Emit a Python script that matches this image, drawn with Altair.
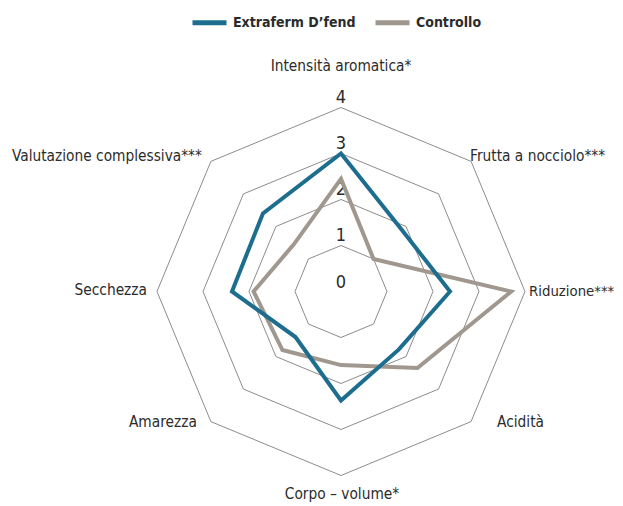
import altair as alt
import pandas as pd

# ---------------- data ----------------
categories = ["Intensità aromatica*", "Frutta a nocciolo***", "Riduzione***", "Acidità",
              "Corpo – volume*", "Amarezza", "Secchezza", "Valutazione complessiva***"]
extraferm = [3.0, 1.88, 2.37, 1.78, 2.37, 1.4, 2.37, 2.4]
controllo = [2.45, 1.0, 3.7, 2.35, 1.6, 1.8, 1.9, 1.45]
series_names = ["Extraferm D’fend", "Controllo"]
ring_levels = [1, 2, 3, 4]
tick_values = [0, 1, 2, 3, 4]
tick_labels = ["0", "1", "2", "3", "4"]

# ---------------- style ----------------
BLUE = "#1d6d8e"
GRAY = "#a0978e"
RING = "#8c8c8c"
TEXT = "#2b2b2b"
FONT = "DejaVu Sans Condensed, Liberation Sans Narrow, sans-serif"
N = len(categories)
RMAX = max(ring_levels)

series_df = pd.DataFrame(
    [{"series": s, "idx": i, "category": c, "value": v}
     for s, vals in zip(series_names, [extraferm, controllo])
     for i, (c, v) in enumerate(zip(categories, vals))]
)
ring_df = pd.DataFrame([{"level": l, "idx": i} for l in ring_levels for i in range(N)])
cat_df = pd.DataFrame({"idx": list(range(N)), "category": categories})
tick_df = pd.DataFrame({"value": tick_values, "label": tick_labels})

xs = alt.Scale(domain=[-7.239, 5.957], nice=False, zero=False)
ys = alt.Scale(domain=[-4.663, 6.163], nice=False, zero=False)


def polar(chart, rexpr):
    return chart.transform_calculate(
        px=f"({rexpr}) * sin(datum.idx * 2 * PI / {N})",
        py=f"({rexpr}) * cos(datum.idx * 2 * PI / {N})",
    )


X = alt.X("px:Q", scale=xs, axis=None)
Y = alt.Y("py:Q", scale=ys, axis=None)

rings = polar(alt.Chart(ring_df), "datum.level").mark_line(
    interpolate="linear-closed", stroke=RING, strokeWidth=1
).encode(x=X, y=Y, detail="level:N", order="idx:Q")

ticks = alt.Chart(tick_df).transform_calculate(px="0", py="datum.value").mark_text(
    font=FONT, fontSize=18, color=TEXT, align="center", baseline="alphabetic", dy=-4
).encode(x=X, y=Y, text="label:N")

# label placement (align, dx, dy, size) per axis
label_style = [
    ("center", 0, -41, 15.3),
    ("left", -1, -5, 15.3),
    ("left", 4, 0, 14.8),
    ("left", 26, 0, 15.3),
    ("center", 1, 18, 15.3),
    ("right", -14, 0, 15.3),
    ("right", -10, -2, 15.3),
    ("right", -9, -5, 15.3),
]
label_layers = []
for i, (al, dx, dy, fs) in enumerate(label_style):
    label_layers.append(
        polar(alt.Chart(cat_df).transform_filter(f"datum.idx == {i}"), str(RMAX)).mark_text(
            font=FONT, fontSize=fs, color=TEXT, align=al, baseline="middle", dx=dx, dy=dy
        ).encode(x=X, y=Y, text="category:N")
    )

color = alt.Color(
    "series:N",
    scale=alt.Scale(domain=series_names, range=[BLUE, GRAY]),
    legend=alt.Legend(
        title=None, orient="none", legendX=182, legendY=-5, direction="horizontal",
        symbolType="stroke", symbolStrokeWidth=5, symbolSize=1156,
        labelFont=FONT, labelFontWeight="bold", labelFontSize=14, labelColor=TEXT,
        columnPadding=9, labelOffset=4,
    ),
)


def series_layer(name):
    return polar(
        alt.Chart(series_df).transform_filter(f"datum.series == '{name}'"), "datum.value"
    ).mark_line(interpolate="linear-closed", strokeWidth=4, strokeJoin="miter").encode(
        x=X, y=Y, color=color, order="idx:Q"
    )


chart = alt.layer(
    rings, ticks, *label_layers, series_layer(series_names[1]), series_layer(series_names[0])
).properties(width=607, height=498, padding=0, autosize="none").configure_view(stroke=None)

chart.save("out.html", embed_options={"renderer": "svg", "actions": False})
